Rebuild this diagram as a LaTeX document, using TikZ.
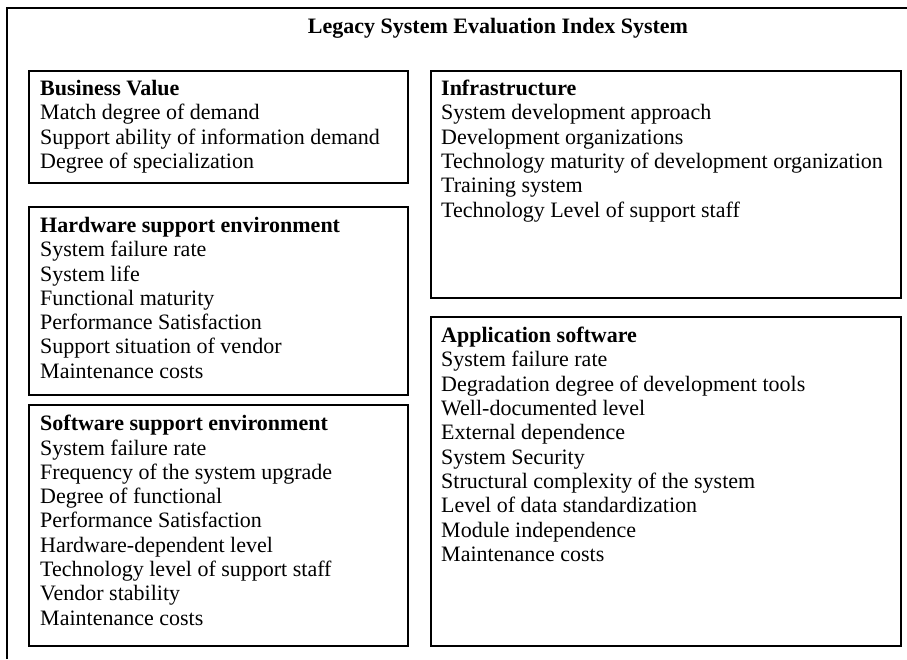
\documentclass[tikz,border=0pt]{standalone}
\usepackage{fontspec}
\setmainfont{Liberation Serif}
\tikzset{
  panel/.style={draw, line width=1.6pt, inner sep=0pt, anchor=north west},
  items/.style={anchor=north west, align=left, inner sep=0pt, font=\fontsize{22}{24.3}\selectfont},
  heading/.style={font=\fontsize{22}{24.3}\selectfont\bfseries},
}
\begin{document}
\begin{tikzpicture}[x=1pt, y=-1pt]
  \useasboundingbox (0,0) rectangle (907,659);

  % outer frame, cut off at right and bottom
  \draw[line width=1.6pt] (7,659) -- (7,8) -- (907,8);
  \node[heading] (title) at (498,28) {Legacy System Evaluation Index System};

  % left column
  \node[panel, minimum width=379, minimum height=112] (bv) at (28,70) {};
  \node[items] (bvtext) at ([shift={(12,10)}]bv.north west)
    {\textbf{Business Value}\\Match degree of demand\\Support ability of information demand\\Degree of specialization};

  \node[panel, minimum width=379, minimum height=188] (hw) at (28,206) {};
  \node[items] (hwtext) at ([shift={(12,11)}]hw.north west)
    {\textbf{Hardware support environment}\\System failure rate\\System life\\Functional maturity\\Performance Satisfaction\\Support situation of vendor\\Maintenance costs};

  \node[panel, minimum width=379, minimum height=241] (sw) at (28,404) {};
  \node[items] (swtext) at ([shift={(12,11)}]sw.north west)
    {\textbf{Software support environment}\\System failure rate\\Frequency of the system upgrade\\Degree of functional\\Performance Satisfaction\\Hardware-dependent level\\Technology level of support staff\\Vendor stability\\Maintenance costs};

  % right column
  \node[panel, minimum width=470, minimum height=227] (infra) at (430,70) {};
  \node[items] (infratext) at ([shift={(11,10)}]infra.north west)
    {\textbf{Infrastructure}\\System development approach\\Development organizations\\Technology maturity of development organization\\Training system\\Technology Level of support staff};

  \node[panel, minimum width=470, minimum height=329] (app) at (430,316) {};
  \node[items] (apptext) at ([shift={(11,11)}]app.north west)
    {\textbf{Application software}\\System failure rate\\Degradation degree of development tools\\Well-documented level\\External dependence\\System Security\\Structural complexity of the system\\Level of data standardization\\Module independence\\Maintenance costs};
\end{tikzpicture}
\end{document}
